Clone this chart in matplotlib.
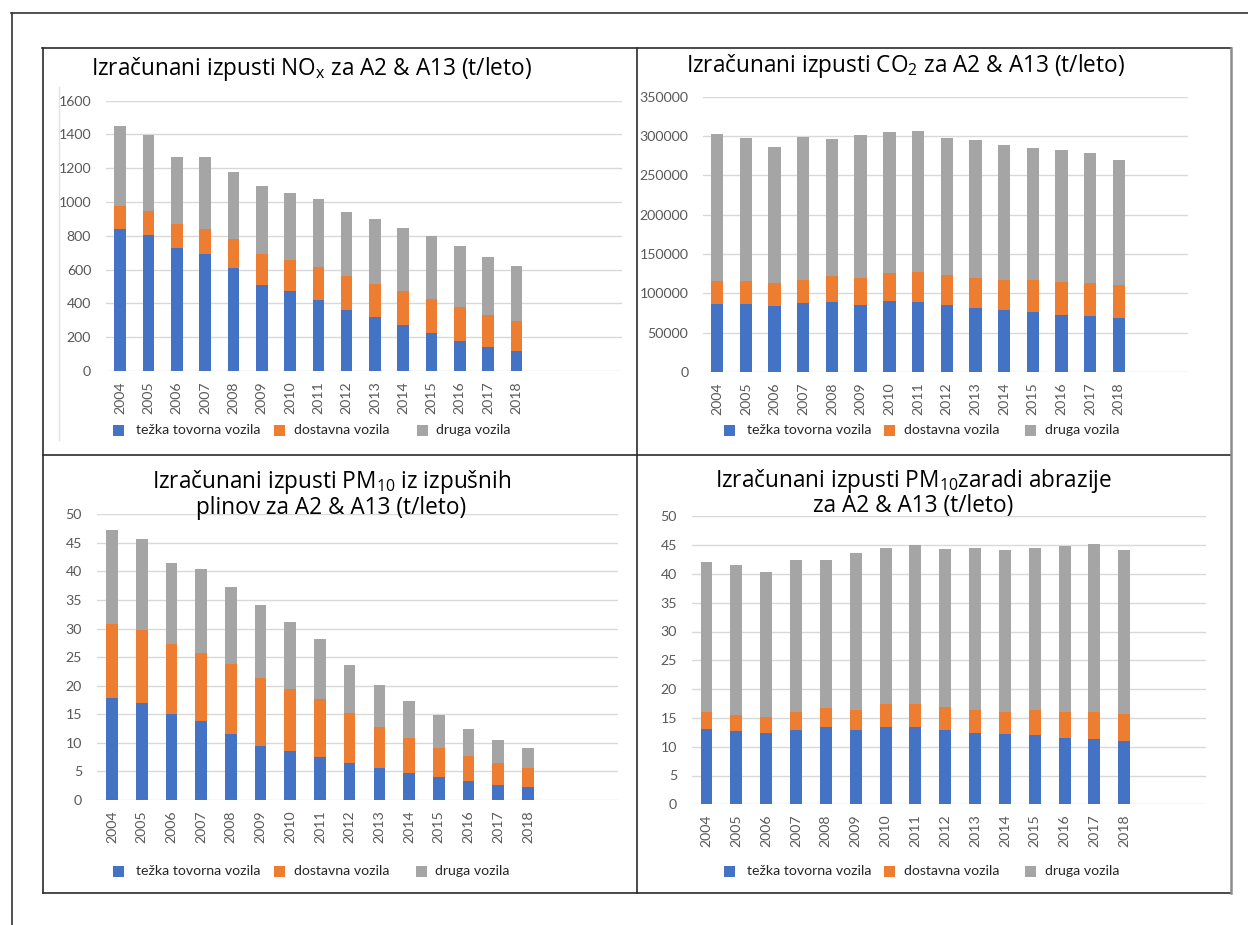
import matplotlib
matplotlib.use("Agg")
import matplotlib.pyplot as plt
from matplotlib.lines import Line2D
from matplotlib.patches import Rectangle

plt.rcParams["font.family"] = ["Lato", "DejaVu Sans"]
plt.rcParams["mathtext.fontset"] = "custom"
plt.rcParams["mathtext.rm"] = "Open Sans"
plt.rcParams["mathtext.it"] = "Open Sans:italic"
plt.rcParams["mathtext.bf"] = "Open Sans:bold"

years = ["2004", "2005", "2006", "2007", "2008", "2009", "2010", "2011",
         "2012", "2013", "2014", "2015", "2016", "2017", "2018"]
series_names = ["težka tovorna vozila", "dostavna vozila", "druga vozila"]
series_colors = ["#4472C4", "#ED7D31", "#A5A5A5"]

# NOx (t/leto)
nox_heavy = [838, 805, 730, 690, 610, 507, 473, 418, 363, 319, 274, 225, 178, 144, 118]
nox_delivery = [140, 142, 138, 148, 169, 183, 184, 195, 197, 198, 198, 201, 201, 187, 178]
nox_other = [474, 450, 401, 431, 401, 405, 398, 403, 381, 385, 376, 375, 359, 342, 323]

# CO2 (t/leto)
co2_heavy = [86900, 86900, 83500, 87700, 89000, 85200, 89800, 89000, 85200,
             81800, 79200, 76700, 72500, 71600, 68200]
co2_delivery = [28800, 28800, 29200, 29200, 33400, 34700, 35600, 37700, 38100,
                37300, 37700, 40200, 41500, 41100, 42000]
co2_other = [186400, 182200, 173300, 182200, 174200, 181400, 180100, 179600,
             174600, 175800, 171200, 168300, 167800, 165700, 159700]

# PM10 from exhaust gases (t/leto)
pmx_heavy = [17.9, 17.0, 15.0, 13.8, 11.6, 9.5, 8.6, 7.5, 6.4, 5.6, 4.8, 4.1, 3.3, 2.7, 2.2]
pmx_delivery = [12.9, 12.8, 12.3, 12.0, 12.2, 11.8, 10.9, 10.1, 8.8, 7.2, 6.0, 5.0, 4.4, 3.7, 3.4]
pmx_other = [16.5, 15.8, 14.2, 14.7, 13.4, 12.8, 11.7, 10.5, 8.4, 7.4, 6.5, 5.8, 4.7, 4.1, 3.5]

# PM10 from abrasion (t/leto)
pma_heavy = [13.1, 12.8, 12.3, 12.9, 13.4, 12.9, 13.5, 13.5, 12.9, 12.4, 12.15, 12.0, 11.5, 11.3, 11.05]
pma_delivery = [2.9, 2.7, 2.9, 3.1, 3.3, 3.5, 3.9, 3.9, 4.0, 4.0, 3.95, 4.3, 4.5, 4.7, 4.55]
pma_other = [26.0, 26.05, 25.1, 26.5, 25.8, 27.2, 27.1, 27.7, 27.4, 28.1, 28.1, 28.2, 28.85, 29.25, 28.6]

nox_ticks = [0, 200, 400, 600, 800, 1000, 1200, 1400, 1600]
co2_ticks = [0, 50000, 100000, 150000, 200000, 250000, 300000, 350000]
pm_ticks = [0, 5, 10, 15, 20, 25, 30, 35, 40, 45, 50]

W, H = 1248, 925
fig = plt.figure(figsize=(W / 100, H / 100), dpi=100)
fig.patch.set_facecolor("white")


def fx(x):
    return x / W


def fy(y):
    return 1 - y / H


def hline(x0, x1, y, color="#2b2b2b", lw=1.2):
    fig.add_artist(Line2D([fx(x0), fx(x1)], [fy(y), fy(y)], color=color, lw=lw,
                          transform=fig.transFigure))


def vline(x, y0, y1, color="#2b2b2b", lw=1.2):
    fig.add_artist(Line2D([fx(x), fx(x)], [fy(y0), fy(y1)], color=color, lw=lw,
                          transform=fig.transFigure))


def panel(box, xlim, ticks, stacks, width):
    left, top, right, bottom = box
    ax = fig.add_axes([fx(left), fy(bottom), fx(right - left), (bottom - top) / H])
    ax.set_facecolor("none")
    xs = list(range(len(years)))
    base = [0] * len(years)
    for vals, col in zip(stacks, series_colors):
        ax.bar(xs, vals, width=width, bottom=base, color=col, zorder=3)
        base = [b + v for b, v in zip(base, vals)]
    ax.set_xlim(*xlim)
    ax.set_ylim(ticks[0], ticks[-1])
    ax.set_yticks(ticks)
    ax.set_yticklabels([str(t) for t in ticks])
    ax.set_xticks(xs)
    ax.set_xticklabels(years, rotation=90)
    ax.grid(axis="y", color="#D9D9D9", lw=1.0, zorder=0)
    ax.set_axisbelow(True)
    for s in ax.spines.values():
        s.set_visible(False)
    ax.tick_params(axis="y", length=0, pad=10.5, labelsize=10.2, labelcolor="#595959")
    ax.tick_params(axis="x", length=0, pad=7.5, labelsize=10.2, labelcolor="#595959")
    return ax


def legend_row(y, squares, texts):
    for sx, tx, name, col in zip(squares, texts, series_names, series_colors):
        fig.add_artist(Rectangle((fx(sx), fy(y + 5.5)), 11 / W, 11 / H,
                                 facecolor=col, edgecolor="none",
                                 transform=fig.transFigure))
        fig.text(fx(tx), fy(y), name, fontsize=10.2, color="#262626",
                 ha="left", va="center")


def title(x, y, s, va="baseline"):
    fig.text(fx(x), fy(y), s, fontsize=16.3, color="#000000",
             family=["Open Sans", "DejaVu Sans"], linespacing=0.98,
             ha="center", va=va, multialignment="center")


# page and table frame
hline(11, W, 13.3, color="#333333")
vline(11.7, 13.3, H, color="#333333")
hline(42.5, 1231, 47.5)
vline(42.7, 47.5, 893.3)
vline(637.3, 47.5, 893.3)
hline(42.7, 1231, 893.3)
hline(42.7, 1231, 454.5)
vline(1230.7, 47.5, 893.3, color="#8c8c8c", lw=1.8)
vline(59, 87, 440, color="#e3e3e3", lw=1.0)

# panel 1: NOx
panel((105.8, 100.7, 621.7, 371.0), (-0.51, 17.72), nox_ticks,
      [nox_heavy, nox_delivery, nox_other], 0.41)
title(312, 75, r"Izračunani izpusti NO$_\mathregular{x}$ za A2 & A13 (t/leto)")
legend_row(430, [112.7, 274.2, 416.5], [135.7, 294.5, 436.0])

# panel 2: CO2
panel((702.9, 96.7, 1188.5, 372.0), (-0.50, 16.43), co2_ticks,
      [co2_heavy, co2_delivery, co2_other], 0.43)
title(905.5, 71.7, r"Izračunani izpusti CO$_\mathregular{2}$ za A2 & A13 (t/leto)")
legend_row(430, [723.5, 883.9, 1025.0], [746.9, 904.5, 1045.3])

# panel 3: PM10 from exhaust
panel((96.6, 514.3, 617.9, 800.0), (-0.52, 17.03), pm_ticks,
      [pmx_heavy, pmx_delivery, pmx_other], 0.39)
title(331.5, 494.0,
      "Izračunani izpusti PM$_\\mathregular{10}$ iz izpušnih\nplinov za A2 & A13 (t/leto)",
      va="center")
legend_row(871, [112.7, 274.2, 415.8], [135.7, 294.5, 435.3])

# panel 4: PM10 from abrasion
panel((691.6, 516.3, 1206.0, 804.3), (-0.50, 16.74), pm_ticks,
      [pma_heavy, pma_delivery, pma_other], 0.40)
title(913.5, 492.5,
      "Izračunani izpusti PM$_\\mathregular{10}$zaradi abrazije\nza A2 & A13 (t/leto)",
      va="center")
legend_row(871, [723.5, 883.9, 1025.0], [746.9, 904.5, 1045.3])

fig.savefig("out.png", dpi=100, facecolor="white")
